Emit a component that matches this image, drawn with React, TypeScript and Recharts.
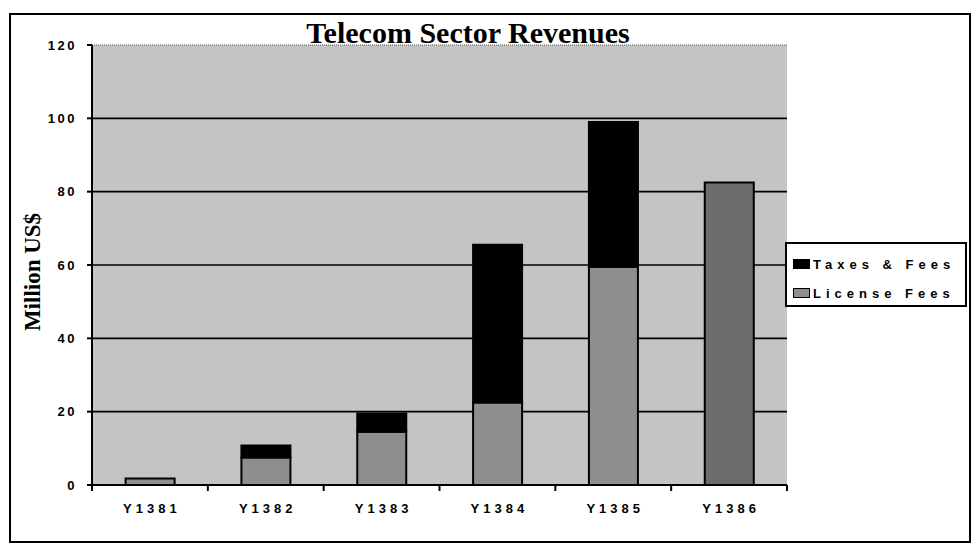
import { Bar, BarChart, CartesianGrid, Cell, Legend, ReferenceLine, XAxis, YAxis } from 'recharts'

const years = ['Y1381', 'Y1382', 'Y1383', 'Y1384', 'Y1385', 'Y1386']
const licenseFees = [1.8, 7.5, 14.5, 22.5, 59.5, 82.5]
const taxesAndFees = [0, 3.3, 5, 43, 39.5, 0]
const yTicks = [0, 20, 40, 60, 80, 100, 120]

const COLORS = {
  plot: '#c4c4c4',
  license: '#8e8e8e',
  licenseLast: '#6c6c6c',
  taxes: '#000000',
} as const

const legendItems = [
  { label: 'Taxes & Fees', fill: COLORS.taxes },
  { label: 'License Fees', fill: COLORS.license },
]

const data = years.map((year, i) => ({
  year,
  license: licenseFees[i],
  taxes: taxesAndFees[i],
}))

const SANS = '"Liberation Sans", Arial, sans-serif'
const SERIF = '"Liberation Serif", "Times New Roman", serif'

/* Year label plus the small tick marks on the category boundaries */
function YearTick(props: any) {
  const { x, y, payload, index } = props
  const half = payload?.offset ?? 57.9
  return (
    <g>
      {index === 0 && (
        <line x1={x - half} y1={y} x2={x - half} y2={y + 6} stroke="#000" strokeWidth={2} />
      )}
      <line x1={x + half} y1={y} x2={x + half} y2={y + 6} stroke="#000" strokeWidth={2} />
      <text
        x={x + 2}
        y={y + 28}
        textAnchor="middle"
        fontFamily={SANS}
        fontWeight="bold"
        fontSize={13}
        letterSpacing={4}
        fill="#000"
      >
        {payload.value}
      </text>
    </g>
  )
}

function LegendBox() {
  return (
    <div
      style={{
        border: '2px solid #000',
        background: '#fff',
        padding: '5px 0 5px 6px',
        boxSizing: 'border-box',
        width: 182,
        height: 65,
      }}
    >
      {legendItems.map((item) => (
        <div
          key={item.label}
          style={{ display: 'flex', alignItems: 'center', height: 26, marginTop: item.label === 'License Fees' ? 3 : 2 }}
        >
          <span
            style={{
              display: 'inline-block',
              width: 17,
              height: 10,
              background: item.fill,
              border: '1.5px solid #000',
              boxSizing: 'border-box',
              marginRight: 3,
            }}
          />
          <span
            style={{
              fontFamily: SANS,
              fontWeight: 'bold',
              fontSize: 13,
              letterSpacing: 5,
              whiteSpace: 'nowrap',
            }}
          >
            {item.label}
          </span>
        </div>
      ))}
    </div>
  )
}

export default function App() {
  return (
    <div style={{ position: 'relative', width: 974, height: 552, background: '#fff' }}>
      <style>{'body { margin: 0; }'}</style>
      <div
        style={{
          position: 'absolute',
          left: 9,
          top: 13,
          width: 962,
          height: 530,
          border: '2px solid #000',
          boxSizing: 'border-box',
        }}
      />
      <BarChart
        width={974}
        height={552}
        data={data}
        margin={{ top: 45, right: 187, left: 0, bottom: 37 }}
        barCategoryGap="29%"
        style={{ position: 'absolute', left: 0, top: 0 }}
      >
        <text
          x={468}
          y={43}
          textAnchor="middle"
          fontFamily={SERIF}
          fontWeight="bold"
          fontSize={30}
          fill="#000"
        >
          Telecom Sector Revenues
        </text>
        <text
          x={40}
          y={272}
          transform="rotate(-90 40 272)"
          textAnchor="middle"
          fontFamily={SERIF}
          fontWeight="bold"
          fontSize={23}
          fill="#000"
        >
          Million US$
        </text>
        <CartesianGrid
          vertical={false}
          horizontalValues={[20, 40, 60, 80, 100]}
          stroke="#000"
          strokeWidth={1.6}
          fill={COLORS.plot}
          fillOpacity={1}
        />
        <ReferenceLine y={120} stroke="#555" strokeDasharray="1 1" strokeWidth={1.2} />
        <XAxis
          dataKey="year"
          height={30}
          tickLine={false}
          tickSize={0}
          tickMargin={0}
          axisLine={{ stroke: '#000', strokeWidth: 2 }}
          tick={<YearTick />}
          interval={0}
        />
        <YAxis
          width={92}
          domain={[0, 120]}
          ticks={yTicks}
          interval={0}
          tickSize={5}
          tickMargin={10}
          tickLine={{ stroke: '#000', strokeWidth: 2 }}
          axisLine={{ stroke: '#000', strokeWidth: 2 }}
          tick={{
            fontFamily: SANS,
            fontWeight: 'bold',
            fontSize: 13,
            letterSpacing: 2.5,
            fill: '#000',
          }}
        />
        <Legend
          layout="horizontal"
          align="center"
          verticalAlign="middle"
          content={() => <LegendBox />}
          wrapperStyle={{ left: 785, top: 242, width: 182, height: 65 }}
        />
        <Bar
          dataKey="license"
          name="License Fees"
          stackId="rev"
          fill={COLORS.license}
          stroke="#000"
          strokeWidth={2}
          isAnimationActive={false}
        >
          {data.map((d, i) => (
            <Cell key={d.year} fill={i === data.length - 1 ? COLORS.licenseLast : COLORS.license} />
          ))}
        </Bar>
        <Bar
          dataKey="taxes"
          name="Taxes & Fees"
          stackId="rev"
          fill={COLORS.taxes}
          stroke="#000"
          strokeWidth={2}
          isAnimationActive={false}
        />
      </BarChart>
    </div>
  )
}
